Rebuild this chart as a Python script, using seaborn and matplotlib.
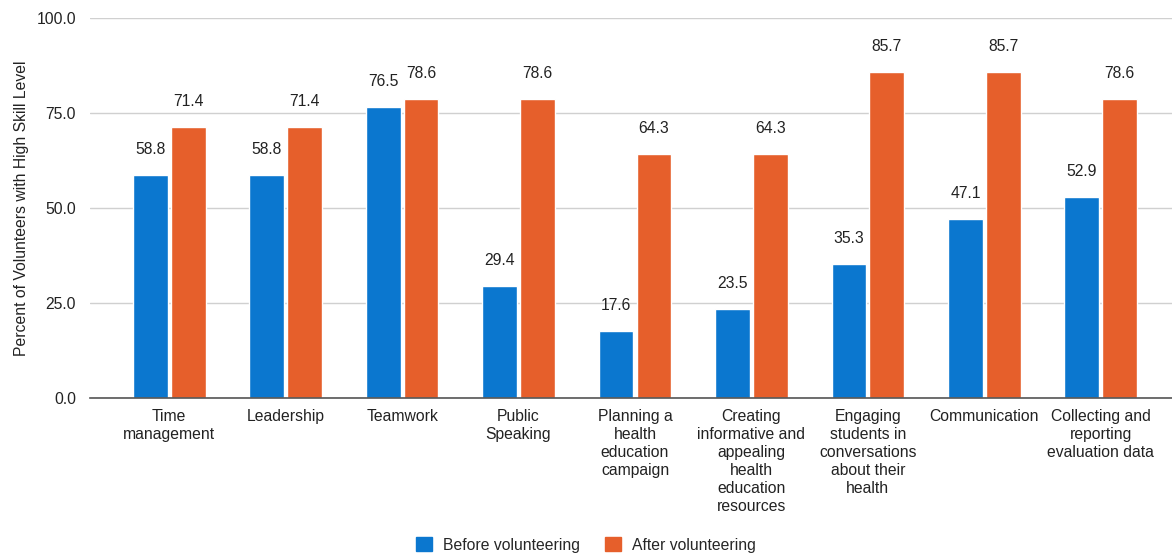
import matplotlib
matplotlib.use("Agg")
import matplotlib.pyplot as plt
import seaborn as sns
import pandas as pd
from matplotlib.patches import Patch

skills = [
    "Time\nmanagement",
    "Leadership",
    "Teamwork",
    "Public\nSpeaking",
    "Planning a\nhealth\neducation\ncampaign",
    "Creating\ninformative and\nappealing\nhealth\neducation\nresources",
    "Engaging\nstudents in\nconversations\nabout their\nhealth",
    "Communication",
    "Collecting and\nreporting\nevaluation data",
]
before = [58.8, 58.8, 76.5, 29.4, 17.6, 23.5, 35.3, 47.1, 52.9]
after = [71.4, 71.4, 78.6, 78.6, 64.3, 64.3, 85.7, 85.7, 78.6]
series = ["Before volunteering", "After volunteering"]
colors = ["#0B77CF", "#E65F2B"]
yticks = [0, 25, 50, 75, 100]

df = pd.DataFrame({
    "skill": skills * 2,
    "value": before + after,
    "period": [series[0]] * len(skills) + [series[1]] * len(skills),
})

sns.set_theme(style="white")
plt.rcParams["font.family"] = ["Liberation Sans", "DejaVu Sans"]
FS = 11.3

fig = plt.figure(figsize=(11.72, 5.56), dpi=100)
ax = fig.add_axes([90 / 1172, 1 - 398 / 556, 1090 / 1172, 380 / 556])

sns.barplot(data=df, x="skill", y="value", hue="period", hue_order=series,
            palette=colors, width=0.65, gap=0.08, ax=ax, legend=False,
            saturation=1, errorbar=None)

for cont in ax.containers:
    ax.bar_label(cont, fmt="%.1f", padding=13, fontsize=FS, color="#222222")

ax.set_ylim(0, 100)
ax.set_xlim(-0.68, 8.68)
ax.set_yticks(yticks)
ax.set_yticklabels([f"{v:.1f}" for v in yticks], fontsize=FS, color="#222222")
ax.yaxis.grid(True, color="#d0d0d0", linewidth=1)
ax.set_axisbelow(True)
ax.tick_params(axis="x", labelsize=FS, colors="#222222", length=0, pad=8)
ax.tick_params(axis="y", length=0, pad=10)
for lab in ax.get_xticklabels():
    lab.set_va("top")
    lab.set_ha("center")
    lab.set_multialignment("center")
    lab.set_linespacing(1.24)
for s in ["top", "right", "left"]:
    ax.spines[s].set_visible(False)
ax.spines["bottom"].set_color("#555555")
ax.spines["bottom"].set_linewidth(1.2)
ax.set_xlabel("")
ax.set_ylabel("Percent of Volunteers with High Skill Level", fontsize=FS,
              color="#222222")
ax.yaxis.set_label_coords(-0.056, 0.5)

handles = [Patch(facecolor=c, edgecolor=c) for c in colors]
fig.legend(handles, series, loc="center", bbox_to_anchor=(0.5, 1 - 545 / 556),
           ncol=2, frameon=False, fontsize=FS, handlelength=1.0,
           handleheight=1.0, columnspacing=1.6, handletextpad=0.7)

fig.savefig("out.png", dpi=100)
